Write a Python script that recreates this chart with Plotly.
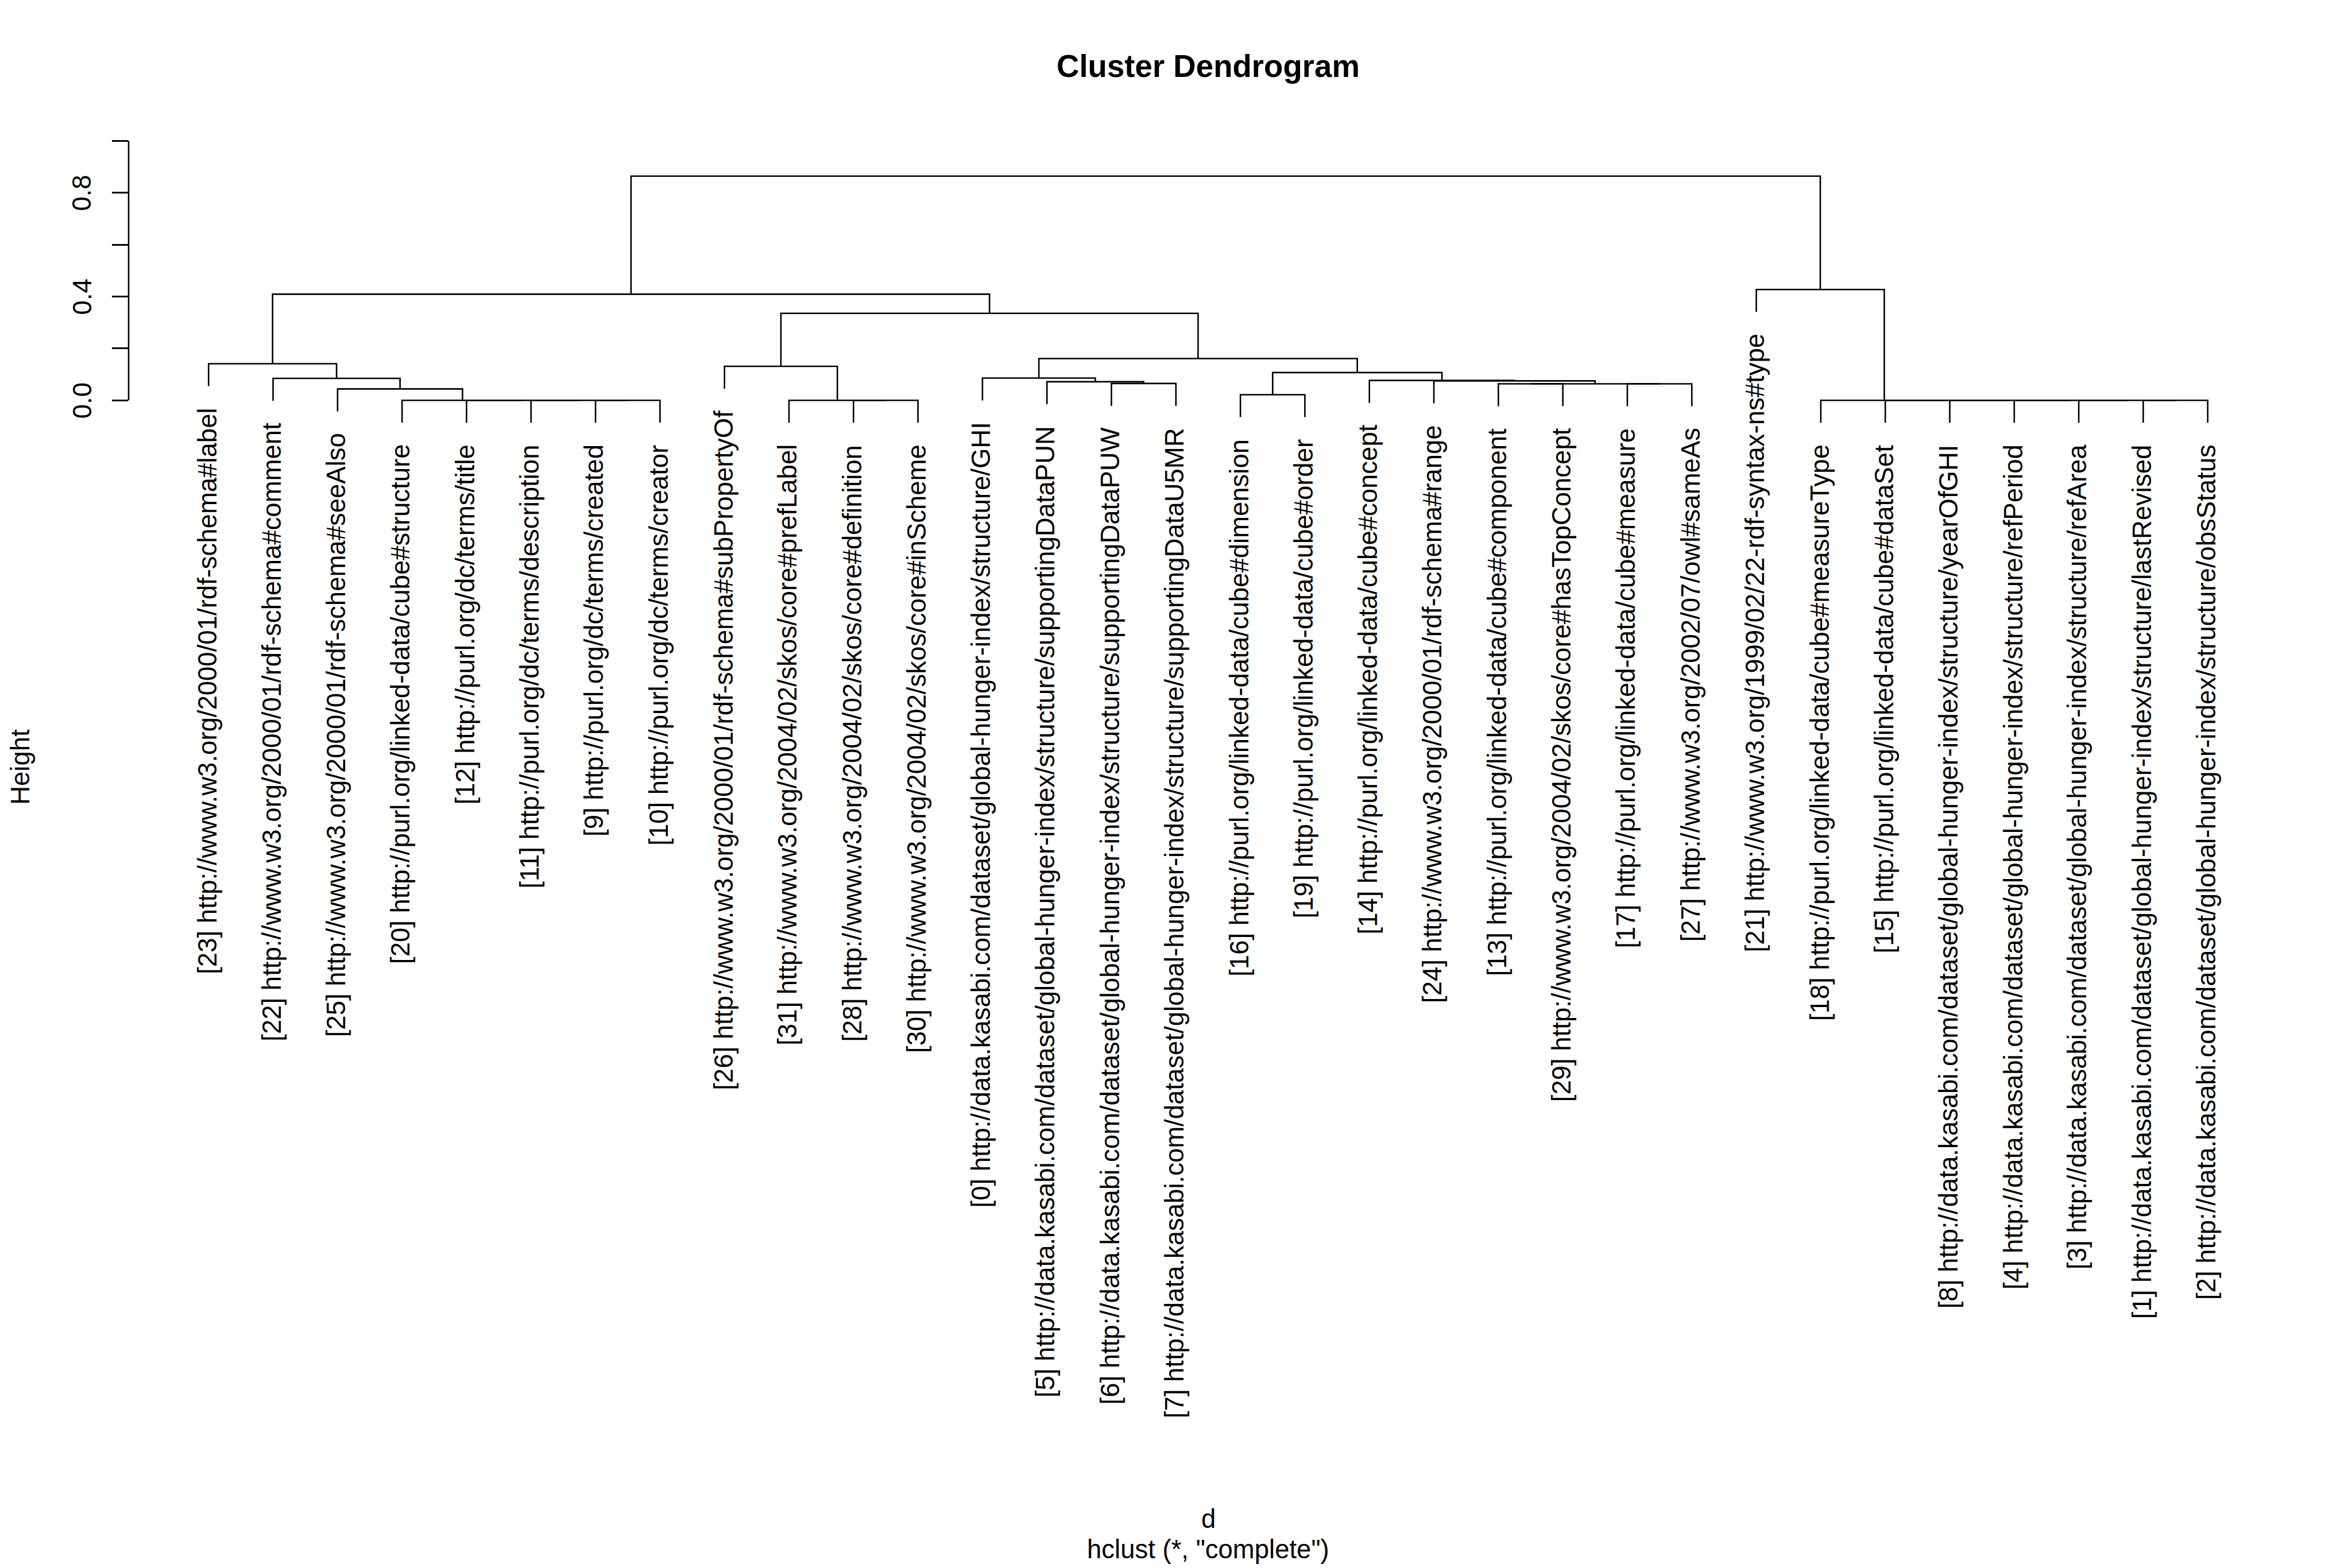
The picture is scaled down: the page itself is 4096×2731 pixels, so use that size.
import plotly.graph_objects as go

# ---------------- data ----------------
ITEM_URLS = [
    "http://data.kasabi.com/dataset/global-hunger-index/structure/GHI",
    "http://data.kasabi.com/dataset/global-hunger-index/structure/lastRevised",
    "http://data.kasabi.com/dataset/global-hunger-index/structure/obsStatus",
    "http://data.kasabi.com/dataset/global-hunger-index/structure/refArea",
    "http://data.kasabi.com/dataset/global-hunger-index/structure/refPeriod",
    "http://data.kasabi.com/dataset/global-hunger-index/structure/supportingDataPUN",
    "http://data.kasabi.com/dataset/global-hunger-index/structure/supportingDataPUW",
    "http://data.kasabi.com/dataset/global-hunger-index/structure/supportingDataU5MR",
    "http://data.kasabi.com/dataset/global-hunger-index/structure/yearOfGHI",
    "http://purl.org/dc/terms/created",
    "http://purl.org/dc/terms/creator",
    "http://purl.org/dc/terms/description",
    "http://purl.org/dc/terms/title",
    "http://purl.org/linked-data/cube#component",
    "http://purl.org/linked-data/cube#concept",
    "http://purl.org/linked-data/cube#dataSet",
    "http://purl.org/linked-data/cube#dimension",
    "http://purl.org/linked-data/cube#measure",
    "http://purl.org/linked-data/cube#measureType",
    "http://purl.org/linked-data/cube#order",
    "http://purl.org/linked-data/cube#structure",
    "http://www.w3.org/1999/02/22-rdf-syntax-ns#type",
    "http://www.w3.org/2000/01/rdf-schema#comment",
    "http://www.w3.org/2000/01/rdf-schema#label",
    "http://www.w3.org/2000/01/rdf-schema#range",
    "http://www.w3.org/2000/01/rdf-schema#seeAlso",
    "http://www.w3.org/2000/01/rdf-schema#subPropertyOf",
    "http://www.w3.org/2002/07/owl#sameAs",
    "http://www.w3.org/2004/02/skos/core#definition",
    "http://www.w3.org/2004/02/skos/core#hasTopConcept",
    "http://www.w3.org/2004/02/skos/core#inScheme",
    "http://www.w3.org/2004/02/skos/core#prefLabel",
]

# merges: (left, right, height); ints are leaf ids, "mK" refers to merge K
MERGE_LEFT = [9, 11, 12, 20, 25, 22, 23,
              28, 31, 26,
              6, 5, 0,
              16, 13, 17, "m14", 24, 14, "m13", "m12", "m9", "m6",
              1, 3, 4, 8, 15, 18, 21, "m22"]
MERGE_RIGHT = [10, "m0", "m1", "m2", "m3", "m4", "m5",
               30, "m7", "m8",
               7, "m10", "m11",
               19, 29, 27, "m15", "m16", "m17", "m18", "m19", "m20", "m21",
               2, "m23", "m24", "m25", "m26", "m27", "m28", "m29"]
MERGE_HEIGHT = [0.0, 0.0, 0.0, 0.0, 0.044, 0.0845, 0.141,
                0.0, 0.0, 0.131,
                0.065, 0.0717, 0.0857,
                0.0214, 0.0636, 0.0636, 0.0636, 0.075, 0.0765, 0.107, 0.161, 0.335, 0.409,
                0.0, 0.0, 0.0, 0.0, 0.0, 0.0, 0.427, 0.864]

Y_TICKS = [0.0, 0.2, 0.4, 0.6, 0.8, 1.0]
Y_TICK_LABELS = ["0.0", "", "0.4", "", "0.8", ""]
TITLE = "Cluster Dendrogram"
X_LABEL = "d"
SUB_LABEL = 'hclust (*, "complete")'
Y_LABEL = "Height"
HANG = 0.1

# ---------------- dendrogram layout ----------------
n_merge = len(MERGE_HEIGHT)
root = "m%d" % (n_merge - 1)


def children(node):
    k = int(node[1:])
    return MERGE_LEFT[k], MERGE_RIGHT[k]


order = []


def walk(node):
    if isinstance(node, int):
        order.append(node)
        return
    a, b = children(node)
    walk(a)
    walk(b)


walk(root)
leaf_pos = {leaf: i + 1 for i, leaf in enumerate(order)}
hang = HANG * (max(MERGE_HEIGHT) - min(MERGE_HEIGHT))

node_x = {}


def nx(node):
    if isinstance(node, int):
        return leaf_pos[node]
    if node not in node_x:
        a, b = children(node)
        node_x[node] = (nx(a) + nx(b)) / 2.0
    return node_x[node]


leaf_bottom = {}
xs, ys = [], []
for k in range(n_merge):
    a, b = MERGE_LEFT[k], MERGE_RIGHT[k]
    h = MERGE_HEIGHT[k]
    pts = []
    for c in (a, b):
        if isinstance(c, int):
            yb = h - hang
            leaf_bottom[c] = yb
        else:
            yb = MERGE_HEIGHT[int(c[1:])]
        pts.append((nx(c), yb))
    (x1, y1), (x2, y2) = pts
    xs += [x1, x1, x2, x2, None]
    ys += [y1, h, h, y2, None]

# ---------------- geometry (pixels in the 4096x2731 window) ----------------
W, H = 4096, 2731
S = W / 4500.0
n = len(order)
unit_x = 123.4 * S
x_lo, x_hi = 1 - 1.24, n + 1.24
left_px = 246 * S
plot_w = (x_hi - x_lo) * unit_x
right_px = left_px + plot_w

zero_px = 766 * S
unit_y = 497 * S
y_lo, y_hi = -0.13, 1.0005
top_px = zero_px - y_hi * unit_y
bot_px = zero_px - y_lo * unit_y

FONT = "Liberation Sans, Arial, Helvetica, sans-serif"
fs = 50 * S
lw = 2.6

fig = go.Figure()
fig.add_trace(go.Scatter(x=xs, y=ys, mode="lines",
                         line=dict(color="black", width=lw),
                         hoverinfo="skip", showlegend=False))

ann = []
for leaf in order:
    ann.append(dict(x=leaf_pos[leaf], y=leaf_bottom[leaf], xref="x", yref="y",
                    text="[%d] %s" % (leaf, ITEM_URLS[leaf]), showarrow=False,
                    textangle=-90, xanchor="center", yanchor="top",
                    yshift=-36, xshift=-2,
                    font=dict(family=FONT, size=fs, color="black")))
for v, t in zip(Y_TICKS, Y_TICK_LABELS):
    if t:
        ann.append(dict(x=0, y=v, xref="paper", yref="y", text=t, showarrow=False,
                        textangle=-90, xanchor="center", yanchor="middle",
                        xshift=157 * S - left_px,
                        font=dict(family=FONT, size=fs, color="black")))
ann.append(dict(x=0.5, y=1, xref="paper", yref="paper", text=TITLE, showarrow=False,
                xanchor="center", yanchor="middle", yshift=top_px - 126 * S,
                font=dict(family=FONT, size=60 * S, color="black", weight="bold")))
ann.append(dict(x=0.5, y=0, xref="paper", yref="paper", text=X_LABEL, showarrow=False,
                xanchor="center", yanchor="middle", yshift=-(2907 * S - bot_px),
                font=dict(family=FONT, size=fs, color="black")))
ann.append(dict(x=0.5, y=0, xref="paper", yref="paper", text=SUB_LABEL, showarrow=False,
                xanchor="center", yanchor="middle", yshift=-(2965 * S - bot_px),
                font=dict(family=FONT, size=fs, color="black")))
ann.append(dict(x=0, y=0, xref="paper", yref="paper", text=Y_LABEL, showarrow=False,
                textangle=-90, xanchor="center", yanchor="middle",
                xshift=38 * S - left_px, yshift=-(1468 * S - bot_px),
                font=dict(family=FONT, size=fs, color="black")))

fig.update_layout(
    width=W, height=H, autosize=False,
    margin=dict(l=left_px, r=W - right_px, t=top_px, b=H - bot_px, pad=0, autoexpand=False),
    paper_bgcolor="white", plot_bgcolor="white",
    xaxis=dict(range=[x_lo, x_hi], visible=False, fixedrange=True),
    yaxis=dict(range=[y_lo, y_hi], showgrid=False, zeroline=False, showline=False,
               tickmode="array", tickvals=Y_TICKS, ticktext=[""] * len(Y_TICKS),
               ticks="outside", ticklen=31 * S, tickwidth=lw, tickcolor="black",
               showticklabels=False, fixedrange=True),
    shapes=[dict(type="line", xref="paper", x0=0, x1=0, yref="y",
                 y0=Y_TICKS[0], y1=Y_TICKS[-1], line=dict(color="black", width=lw))],
    annotations=ann,
    showlegend=False,
)

fig.write_html("out.html")
